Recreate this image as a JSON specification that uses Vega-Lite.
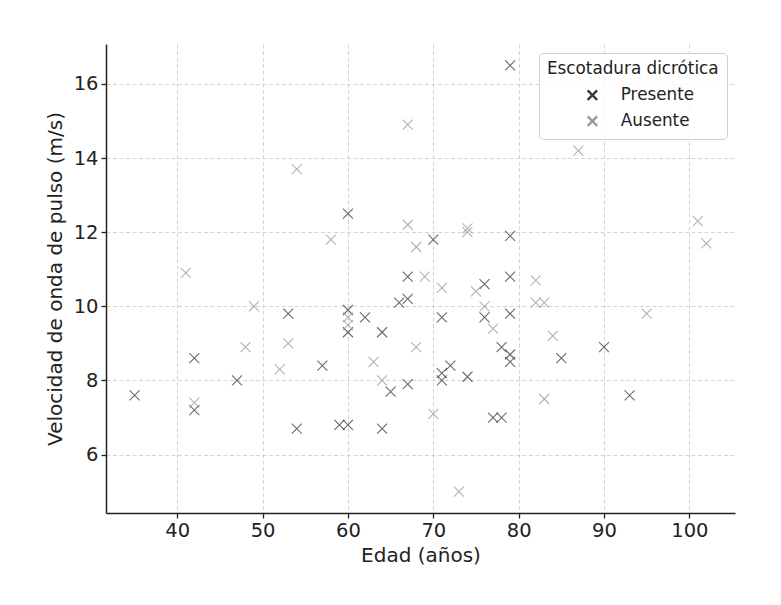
{
  "$schema": "https://vega.github.io/schema/vega-lite/v6.json",
  "autosize": "none",
  "width": 629,
  "height": 469,
  "padding": {"left": 106, "top": 44, "right": 46, "bottom": 92},
  "background": "white",
  "config": {
    "font": "DejaVu Sans",
    "view": {"stroke": null},
    "axis": {
      "domainColor": "#222222",
      "domainWidth": 1.5,
      "tickColor": "#222222",
      "tickWidth": 1.3,
      "tickSize": 5,
      "labelFont": "DejaVu Sans",
      "labelFontSize": 19.5,
      "labelColor": "#222222",
      "titleFont": "DejaVu Sans",
      "titleFontSize": 20,
      "titleFontWeight": "normal",
      "titleColor": "#222222",
      "grid": true,
      "gridColor": "#cfcfcf",
      "gridDash": [4, 2.5],
      "gridWidth": 0.9
    }
  },
  "data": {
    "values": [
      {"edad": 35, "vop": 7.6, "escotadura": "Presente"},
      {"edad": 42, "vop": 8.6, "escotadura": "Presente"},
      {"edad": 42, "vop": 7.2, "escotadura": "Presente"},
      {"edad": 47, "vop": 8.0, "escotadura": "Presente"},
      {"edad": 53, "vop": 9.8, "escotadura": "Presente"},
      {"edad": 54, "vop": 6.7, "escotadura": "Presente"},
      {"edad": 57, "vop": 8.4, "escotadura": "Presente"},
      {"edad": 59, "vop": 6.8, "escotadura": "Presente"},
      {"edad": 60, "vop": 6.8, "escotadura": "Presente"},
      {"edad": 60, "vop": 12.5, "escotadura": "Presente"},
      {"edad": 60, "vop": 9.9, "escotadura": "Presente"},
      {"edad": 60, "vop": 9.3, "escotadura": "Presente"},
      {"edad": 62, "vop": 9.7, "escotadura": "Presente"},
      {"edad": 64, "vop": 9.3, "escotadura": "Presente"},
      {"edad": 64, "vop": 6.7, "escotadura": "Presente"},
      {"edad": 65, "vop": 7.7, "escotadura": "Presente"},
      {"edad": 66, "vop": 10.1, "escotadura": "Presente"},
      {"edad": 67, "vop": 10.2, "escotadura": "Presente"},
      {"edad": 67, "vop": 10.8, "escotadura": "Presente"},
      {"edad": 67, "vop": 7.9, "escotadura": "Presente"},
      {"edad": 70, "vop": 11.8, "escotadura": "Presente"},
      {"edad": 71, "vop": 9.7, "escotadura": "Presente"},
      {"edad": 71, "vop": 8.2, "escotadura": "Presente"},
      {"edad": 71, "vop": 8.0, "escotadura": "Presente"},
      {"edad": 72, "vop": 8.4, "escotadura": "Presente"},
      {"edad": 74, "vop": 8.1, "escotadura": "Presente"},
      {"edad": 76, "vop": 10.6, "escotadura": "Presente"},
      {"edad": 76, "vop": 9.7, "escotadura": "Presente"},
      {"edad": 77, "vop": 7.0, "escotadura": "Presente"},
      {"edad": 78, "vop": 7.0, "escotadura": "Presente"},
      {"edad": 78, "vop": 8.9, "escotadura": "Presente"},
      {"edad": 79, "vop": 16.5, "escotadura": "Presente"},
      {"edad": 79, "vop": 11.9, "escotadura": "Presente"},
      {"edad": 79, "vop": 10.8, "escotadura": "Presente"},
      {"edad": 79, "vop": 9.8, "escotadura": "Presente"},
      {"edad": 79, "vop": 8.7, "escotadura": "Presente"},
      {"edad": 79, "vop": 8.5, "escotadura": "Presente"},
      {"edad": 85, "vop": 8.6, "escotadura": "Presente"},
      {"edad": 90, "vop": 8.9, "escotadura": "Presente"},
      {"edad": 93, "vop": 7.6, "escotadura": "Presente"},
      {"edad": 41, "vop": 10.9, "escotadura": "Ausente"},
      {"edad": 42, "vop": 7.4, "escotadura": "Ausente"},
      {"edad": 48, "vop": 8.9, "escotadura": "Ausente"},
      {"edad": 49, "vop": 10.0, "escotadura": "Ausente"},
      {"edad": 52, "vop": 8.3, "escotadura": "Ausente"},
      {"edad": 53, "vop": 9.0, "escotadura": "Ausente"},
      {"edad": 54, "vop": 13.7, "escotadura": "Ausente"},
      {"edad": 58, "vop": 11.8, "escotadura": "Ausente"},
      {"edad": 60, "vop": 9.7, "escotadura": "Ausente"},
      {"edad": 60, "vop": 9.5, "escotadura": "Ausente"},
      {"edad": 63, "vop": 8.5, "escotadura": "Ausente"},
      {"edad": 64, "vop": 8.0, "escotadura": "Ausente"},
      {"edad": 67, "vop": 14.9, "escotadura": "Ausente"},
      {"edad": 67, "vop": 12.2, "escotadura": "Ausente"},
      {"edad": 68, "vop": 11.6, "escotadura": "Ausente"},
      {"edad": 68, "vop": 8.9, "escotadura": "Ausente"},
      {"edad": 69, "vop": 10.8, "escotadura": "Ausente"},
      {"edad": 70, "vop": 7.1, "escotadura": "Ausente"},
      {"edad": 71, "vop": 10.5, "escotadura": "Ausente"},
      {"edad": 73, "vop": 5.0, "escotadura": "Ausente"},
      {"edad": 74, "vop": 12.1, "escotadura": "Ausente"},
      {"edad": 74, "vop": 12.0, "escotadura": "Ausente"},
      {"edad": 75, "vop": 10.4, "escotadura": "Ausente"},
      {"edad": 76, "vop": 10.0, "escotadura": "Ausente"},
      {"edad": 77, "vop": 9.4, "escotadura": "Ausente"},
      {"edad": 82, "vop": 10.7, "escotadura": "Ausente"},
      {"edad": 82, "vop": 10.1, "escotadura": "Ausente"},
      {"edad": 83, "vop": 10.1, "escotadura": "Ausente"},
      {"edad": 83, "vop": 7.5, "escotadura": "Ausente"},
      {"edad": 84, "vop": 9.2, "escotadura": "Ausente"},
      {"edad": 87, "vop": 14.2, "escotadura": "Ausente"},
      {"edad": 95, "vop": 9.8, "escotadura": "Ausente"},
      {"edad": 101, "vop": 12.3, "escotadura": "Ausente"},
      {"edad": 102, "vop": 11.7, "escotadura": "Ausente"}
    ]
  },
  "mark": {
    "type": "point",
    "shape": "M-1,-1L1,1M-1,1L1,-1",
    "filled": false,
    "size": 100,
    "strokeWidth": 1.1,
    "opacity": 0.75
  },
  "encoding": {
    "x": {
      "field": "edad",
      "type": "quantitative",
      "title": "Edad (años)",
      "scale": {"domain": [31.65, 105.35], "nice": false, "zero": false},
      "axis": {"values": [40, 50, 60, 70, 80, 90, 100], "labelPadding": 3, "titlePadding": 6}
    },
    "y": {
      "field": "vop",
      "type": "quantitative",
      "title": "Velocidad de onda de pulso (m/s)",
      "scale": {"domain": [4.425, 17.075], "nice": false, "zero": false},
      "axis": {"values": [6, 8, 10, 12, 14, 16], "labelPadding": 3, "titlePadding": 8}
    },
    "color": {
      "field": "escotadura",
      "type": "nominal",
      "scale": {"domain": ["Presente", "Ausente"], "range": ["#3a3a3a", "#9a9a9a"]},
      "legend": {
        "title": "Escotadura dicrótica",
        "orient": "none",
        "legendX": 433,
        "legendY": 9,
        "padding": 8,
        "strokeColor": "#d0d0d0",
        "fillColor": "rgba(255,255,255,0.8)",
        "cornerRadius": 4,
        "titleFont": "DejaVu Sans",
        "titleFontSize": 16.8,
        "titleFontWeight": "normal",
        "titleColor": "#222222",
        "titlePadding": 9,
        "labelFont": "DejaVu Sans",
        "labelFontSize": 16.8,
        "labelColor": "#222222",
        "labelOffset": 20,
        "symbolOffset": 37,
        "symbolType": "M-1,-1L1,1M-1,1L1,-1",
        "symbolSize": 90,
        "symbolStrokeWidth": 2.4,
        "symbolOpacity": 1,
        "rowPadding": 6
      }
    }
  }
}
